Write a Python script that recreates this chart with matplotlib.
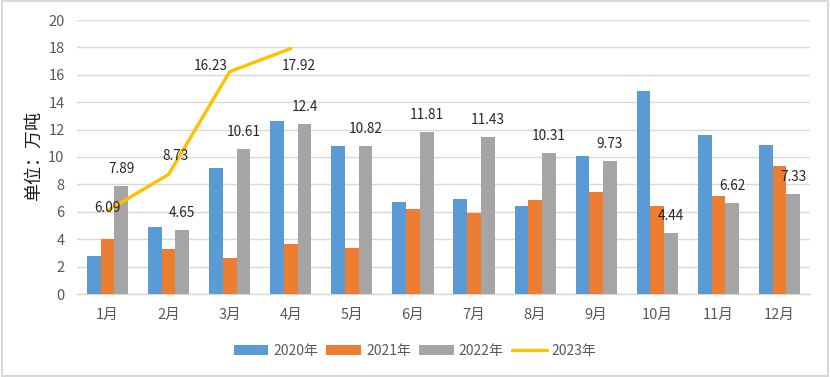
import numpy as np
import matplotlib
matplotlib.use("Agg")
import matplotlib.pyplot as plt
from matplotlib.patches import Rectangle

plt.rcParams["font.family"] = ["Noto Sans CJK SC", "DejaVu Sans"]

# === data ===
months = ["1月", "2月", "3月", "4月", "5月", "6月", "7月", "8月", "9月", "10月", "11月", "12月"]
v2020 = [2.8, 4.9, 9.2, 12.6, 10.8, 6.7, 6.95, 6.4, 10.1, 14.85, 11.6, 10.85]
v2021 = [4.05, 3.3, 2.6, 3.65, 3.35, 6.2, 5.9, 6.85, 7.45, 6.45, 7.15, 9.35]
v2022 = [7.89, 4.65, 10.61, 12.4, 10.82, 11.81, 11.43, 10.31, 9.73, 4.44, 6.62, 7.33]
v2023 = [6.09, 8.73, 16.23, 17.92]
series_names = ["2020年", "2021年", "2022年", "2023年"]

# label offsets for 2023 line labels (pixels)
line_label_offsets = [(0, 3), (7, 18), (-19, 6), (8, -18)]

blue, orange, grey, yellow = "#5B9BD5", "#ED7D31", "#A5A5A5", "#FFC000"
tick_color = "#595959"
grid_color = "#D9D9D9"

fig = plt.figure(figsize=(8.3, 3.77), dpi=100)
ax = fig.add_axes([77 / 830, 1 - 294 / 377, 733 / 830, 274 / 377])

x = np.arange(len(months))
w = 0.225
b1 = ax.bar(x - w, v2020, w, color=blue, label=series_names[0], zorder=3)
b2 = ax.bar(x, v2021, w, color=orange, label=series_names[1], zorder=3)
b3 = ax.bar(x + w, v2022, w, color=grey, label=series_names[2], zorder=3)
ln, = ax.plot(x[:len(v2023)], v2023, color=yellow, lw=2.4, label=series_names[3],
              zorder=4, solid_capstyle="round")

# data labels
for xi, v in zip(x + w, v2022):
    ax.annotate(f"{v:g}", (xi, v), xytext=(0, 17), textcoords="offset pixels",
                ha="center", va="center", fontsize=9.8, color="#262626", zorder=5)
for xi, v, off in zip(x, v2023, line_label_offsets):
    ax.annotate(f"{v:g}", (xi, v), xytext=off, textcoords="offset pixels",
                ha="center", va="center", fontsize=9.8, color="#262626", zorder=5)

ax.set_xlim(-0.5, 11.5)
ax.set_ylim(0, 20)
ax.set_yticks(range(0, 21, 2))
ax.set_xticks(x)
ax.set_xticklabels(months)
ax.tick_params(axis="both", length=0, colors=tick_color, labelsize=10.5)
ax.tick_params(axis="x", pad=10)
ax.tick_params(axis="y", pad=9)
ax.grid(axis="y", color=grid_color, lw=1, zorder=0)
for s in ["top", "right", "left"]:
    ax.spines[s].set_visible(False)
ax.spines["bottom"].set_color(grid_color)
ax.spines["bottom"].set_linewidth(1)

ax.set_ylabel("单位：万吨", fontsize=13, color="#1a1a1a")
ax.yaxis.set_label_coords(-0.046, 0.505)

fig.legend(handles=[b1, b2, b3, ln], loc="center", bbox_to_anchor=(0.5, 0.069),
           ncol=4, frameon=False, fontsize=10, handlelength=2.5, handleheight=0.7,
           handletextpad=0.35, columnspacing=0.6, labelcolor=tick_color)

# outer border
fig.patches.append(Rectangle((0.002, 0.003), 0.996, 0.994, transform=fig.transFigure,
                             fill=False, edgecolor=grid_color, lw=1.5))

fig.savefig("out.png", dpi=100)
